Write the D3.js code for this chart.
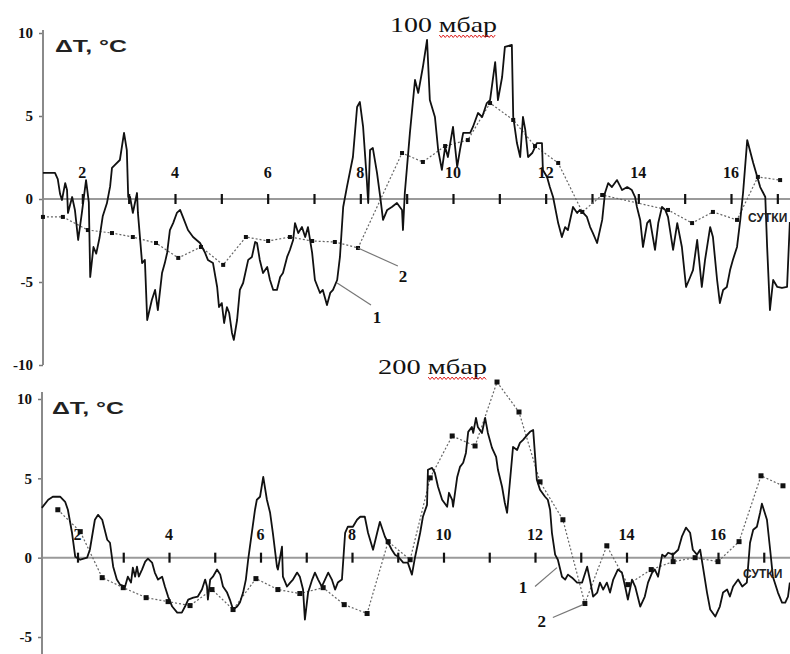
<!DOCTYPE html>
<html>
<head>
<meta charset="utf-8">
<script src="https://cdn.jsdelivr.net/npm/d3@7"></script>
<style>
	body { margin: 0; background: #fff; }
	svg { display: block; }
	.lab { font-family: "Liberation Serif", "Times New Roman", serif; font-weight: bold; font-size: 16px; fill: #111; }
	.unit { font-family: "Liberation Sans", Arial, sans-serif; font-weight: bold; font-size: 17px; fill: #222; }
	.title { font-family: "Liberation Serif", "Times New Roman", serif; font-size: 21px; fill: #111; }
	.days { font-family: "Liberation Sans", Arial, sans-serif; font-weight: bold; font-size: 12px; fill: #222; }
</style>
</head>
<body>
<svg class="chart"></svg>
<script>

// Chart size

var width = 790,
	height = 654;

var chart = d3.select(".chart")
	.attr("width", width)
	.attr("height", height);

// Axis ticks and labels (days of the period)

var dayTicks = [2, 3, 4, 5, 6, 7, 8, 9, 10, 11, 12, 13, 14, 15, 16, 17];
var dayLabels = [2, 4, 6, 8, 10, 12, 14, 16];
var yTicks100 = [10, 5, 0, -5, -10];
var yTicks200 = [10, 5, 0, -5];

// Curve 1 at 100 mbar: [day, dT]

var obs100 = [[1.15,1.57],[1.41,1.57],[1.47,1.2],[1.52,0.3],[1.56,-0.06],[1.63,0.96],[1.67,0.54],[1.69,-0.84],[1.78,0.12],[1.84,-0.66],
	[1.91,-2.47],[1.99,-0.84],[2.08,1.14],[2.14,-0.2],[2.17,-4.70],[2.24,-2.89],[2.30,-3.29],[2.37,-2.35],[2.44,-1.04],[2.53,-0.26],
	[2.60,0.76],[2.64,1.87],[2.71,2.07],[2.81,2.35],[2.90,3.98],[2.96,2.95],[2.99,0.12],[3.03,0.12],[3.09,-0.84],[3.18,0.36],
	[3.20,-0.84],[3.29,-3.86],[3.35,-3.67],[3.40,-7.29],[3.50,-6.08],[3.57,-5.48],[3.63,-6.69],[3.72,-4.46],[3.78,-3.86],[3.83,-3.25],
	[3.89,-1.87],[3.96,-1.45],[4.04,-0.84],[4.11,-0.66],[4.17,-1.08],[4.28,-1.87],[4.39,-2.29],[4.54,-2.65],[4.65,-3.25],[4.71,-3.67],
	[4.82,-3.86],[4.91,-5.30],[4.95,-6.51],[5.01,-6.27],[5.06,-7.47],[5.12,-6.51],[5.17,-6.87],[5.23,-8.07],[5.27,-8.49],[5.34,-7.29],
	[5.40,-5.48],[5.47,-5.06],[5.58,-3.67],[5.66,-3.49],[5.73,-2.59],[5.77,-2.65],[5.83,-3.67],[5.90,-4.46],[5.99,-4.10],[6.05,-4.88],
	[6.12,-5.48],[6.20,-5.48],[6.27,-4.70],[6.33,-4.46],[6.42,-3.49],[6.48,-3.07],[6.55,-2.47],[6.59,-1.45],[6.66,-2.05],[6.74,-1.69],
	[6.81,-2.29],[6.87,-1.69],[6.96,-3.25],[7.02,-4.88],[7.13,-5.66],[7.19,-5.48],[7.28,-6.39],[7.35,-5.66],[7.41,-5.48],[7.50,-4.88],
	[7.56,-3.49],[7.63,-0.48],[7.71,0.72],[7.84,2.53],[7.93,5.54],[7.99,5.84],[8.06,4.34],[8.14,1.14],[8.17,-0.24],[8.21,2.95],
	[8.27,3.07],[8.36,1.57],[8.43,0.12],[8.49,-1.26],[8.58,-0.66],[8.68,-0.48],[8.79,-0.24],[8.90,-0.66],[8.92,-1.87],[8.96,0.36],
	[9.07,3.98],[9.18,7.17],[9.25,6.39],[9.35,7.95],[9.44,9.58],[9.50,5.96],[9.61,4.94],[9.68,2.95],[9.76,1.75],[9.83,3.13],
	[9.89,2.53],[10.00,4.34],[10.09,1.93],[10.15,2.95],[10.22,3.98],[10.37,3.98],[10.43,4.34],[10.54,5.18],[10.63,4.94],[10.73,5.78],
	[10.80,5.96],[10.91,8.25],[10.97,5.96],[11.06,7.35],[11.12,9.16],[11.27,9.28],[11.30,4.94],[11.38,3.37],[11.45,2.53],[11.51,4.94],
	[11.56,4.16],[11.62,2.53],[11.71,2.77],[11.81,3.37],[11.92,3.37],[11.94,1.75],[12.03,1.33],[12.09,0.72],[12.16,0.12],[12.27,-1.45],
	[12.35,-2.29],[12.42,-1.69],[12.48,-1.87],[12.59,-0.48],[12.68,-0.84],[12.74,-0.66],[12.81,-0.84],[12.89,-1.08],[12.96,-1.69],[13.02,-2.05],
	[13.11,-2.65],[13.22,-1.26],[13.28,0.36],[13.35,0.96],[13.43,0.72],[13.54,1.14],[13.65,0.54],[13.76,0.72],[13.86,0.54],[13.93,0.12],
	[13.97,-0.48],[14.04,-1.26],[14.10,-2.89],[14.19,-1.45],[14.25,-1.26],[14.36,-3.07],[14.43,-1.45],[14.51,-0.48],[14.58,-0.66],[14.64,-1.08],
	[14.75,-3.07],[14.84,-1.45],[14.94,-2.89],[15.03,-5.30],[15.12,-4.70],[15.18,-4.28],[15.27,-2.47],[15.37,-5.30],[15.44,-3.67],[15.55,-1.69],
	[15.61,-2.29],[15.70,-4.88],[15.76,-6.27],[15.83,-5.48],[15.91,-5.30],[15.98,-4.28],[16.04,-3.67],[16.13,-2.89],[16.20,-1.26],[16.26,0.36],
	[16.35,3.55],[16.48,2.17],[16.63,0.72],[16.74,0.12],[16.78,-2.89],[16.84,-6.69],[16.91,-4.88],[17.00,-5.30],[17.10,-5.36],[17.21,-5.30],
	[17.27,-1.39]];

// Curve 2 at 100 mbar (twice a day): [day, dT]

var mean100 = [[1.15,-1.08],[1.58,-1.08],[2.12,-1.87],[2.64,-2.05],[3.09,-2.29],[3.59,-2.65],[4.07,-3.55],[4.56,-2.89],[5.04,-3.97],[5.53,-2.29],
	[6.01,-2.53],[6.48,-2.29],[6.96,-2.53],[7.45,-2.59],[7.95,-2.95],[8.90,2.77],[9.35,2.23],[9.83,3.19],[10.32,3.55],[10.80,5.78],
	[11.30,4.76],[11.77,3.19],[12.27,2.17],[12.79,-0.78],[13.22,0.24],[14.64,-0.66],[15.16,-1.45],[15.61,-0.78],[16.13,-1.26],[16.58,1.33],
	[17.06,1.14]];

// Curve 1 at 200 mbar: [day, dT]

var obs200 = [[1.22,3.14],[1.36,3.65],[1.46,3.84],[1.62,3.84],[1.73,3.52],[1.79,3.02],[1.88,1.57],[1.95,0.06],[2.06,-0.13],[2.21,0.0],
	[2.27,0.50],[2.38,2.39],[2.45,2.70],[2.54,2.39],[2.65,1.13],[2.71,0.94],[2.78,-0.57],[2.86,-1.38],[2.93,-1.70],[3.04,-1.82],
	[3.10,-1.20],[3.17,-1.57],[3.21,-0.63],[3.26,-1.20],[3.30,-0.57],[3.34,-1.20],[3.41,-0.75],[3.48,-0.25],[3.54,-0.06],[3.63,-0.31],
	[3.69,-0.94],[3.76,-1.38],[3.85,-1.20],[3.91,-1.82],[3.98,-2.45],[4.07,-3.08],[4.18,-3.46],[4.28,-3.46],[4.35,-3.08],[4.42,-2.64],
	[4.53,-2.52],[4.63,-2.45],[4.72,-2.01],[4.79,-1.38],[4.83,-1.82],[4.85,-2.64],[4.90,-1.38],[4.96,-1.20],[5.05,-0.75],[5.12,-1.07],
	[5.18,-1.82],[5.27,-2.20],[5.33,-2.64],[5.40,-3.27],[5.49,-3.08],[5.55,-2.83],[5.62,-2.20],[5.68,-1.38],[5.73,-0.13],[5.81,1.57],
	[5.88,3.02],[5.92,3.65],[5.99,3.84],[6.06,5.09],[6.14,3.65],[6.21,2.83],[6.27,1.57],[6.36,-0.57],[6.38,-0.75],[6.47,0.69],
	[6.49,-1.20],[6.58,-1.82],[6.65,-1.57],[6.71,-1.38],[6.80,-0.94],[6.86,-1.20],[6.93,-2.01],[6.97,-3.90],[7.04,-2.20],[7.13,-1.38],
	[7.19,-0.94],[7.26,-1.38],[7.34,-1.82],[7.41,-1.38],[7.48,-0.94],[7.56,-1.38],[7.63,-2.01],[7.69,-1.57],[7.78,-1.38],[7.85,1.57],
	[7.91,1.95],[8.02,1.95],[8.11,2.39],[8.18,2.58],[8.28,2.58],[8.35,1.57],[8.46,0.50],[8.55,1.57],[8.61,2.26],[8.72,1.32],
	[8.79,0.94],[8.87,0.50],[8.94,0.19],[9.01,0.06],[9.12,-0.31],[9.22,-0.31],[9.31,-1.07],[9.38,0.06],[9.49,1.57],[9.55,2.58],
	[9.64,3.33],[9.66,5.54],[9.75,5.66],[9.81,5.35],[9.88,4.47],[9.97,3.65],[10.08,3.21],[10.12,4.09],[10.19,3.65],[10.21,3.21],
	[10.30,5.09],[10.36,5.72],[10.43,5.98],[10.49,6.60],[10.54,7.93],[10.62,8.24],[10.65,7.86],[10.71,8.81],[10.75,8.24],[10.84,7.86],
	[10.91,8.81],[10.97,7.86],[11.06,6.92],[11.15,6.35],[11.19,5.54],[11.28,4.47],[11.34,3.46],[11.39,2.83],[11.45,4.72],[11.52,6.98],
	[11.61,6.79],[11.67,7.23],[11.74,7.42],[11.83,7.74],[11.89,7.93],[11.96,8.05],[12.04,4.91],[12.11,4.28],[12.22,3.84],[12.28,3.65],
	[12.33,3.02],[12.37,1.57],[12.44,0.19],[12.50,-0.13],[12.59,-1.20],[12.66,-1.38],[12.72,-1.07],[12.81,-1.26],[12.92,-1.57],[13.03,-1.57],
	[13.14,-0.57],[13.20,-1.38],[13.27,-2.45],[13.36,-2.20],[13.42,-1.57],[13.49,-2.01],[13.57,-1.57],[13.64,-2.20],[13.71,-1.38],[13.81,-0.75],
	[13.90,-0.94],[13.97,-1.82],[14.03,-2.64],[14.12,-1.38],[14.19,-1.82],[14.30,-3.08],[14.40,-2.45],[14.47,-1.57],[14.56,-0.94],[14.62,-0.75],
	[14.69,-1.20],[14.78,0.19],[14.84,0.06],[14.91,0.31],[15.02,0.19],[15.13,0.50],[15.21,1.32],[15.30,1.89],[15.39,1.57],[15.45,0.50],
	[15.54,0.19],[15.61,0.50],[15.67,-0.57],[15.76,-2.20],[15.83,-3.27],[15.94,-3.71],[16.04,-3.08],[16.11,-2.20],[16.20,-2.01],[16.26,-2.45],
	[16.33,-1.82],[16.44,-1.38],[16.53,-1.82],[16.63,-1.57],[16.70,0.94],[16.77,1.76],[16.85,1.95],[16.92,2.83],[16.96,3.40],[17.07,2.39],
	[17.14,0.50],[17.20,-1.20],[17.31,-2.20],[17.40,-2.83],[17.47,-2.83],[17.53,-2.45],[17.57,-1.57]];

// Curve 2 at 200 mbar (twice a day): [day, dT]

var mean200 = [[1.57,3.02],[2.06,1.64],[2.54,-1.26],[3.00,-1.89],[3.50,-2.52],[3.98,-2.77],[4.46,-3.02],[4.94,-2.01],[5.40,-3.27],[5.90,-1.32],
	[6.38,-2.01],[6.86,-2.26],[7.37,-1.89],[7.83,-2.96],[8.33,-3.52],[8.79,1.01],[9.27,-0.13],[9.71,5.03],[10.19,7.67],[10.69,7.04],
	[11.17,11.07],[11.65,9.18],[12.11,4.78],[12.61,2.39],[13.09,-2.89],[13.57,0.75],[14.03,-1.70],[14.54,-0.75],[15.02,-0.25],[15.50,0.0],
	[16.00,-0.25],[16.46,1.01],[16.94,5.16],[17.42,4.53]];

// Panel settings: where each panel sits on the page

var panels = [
{
	"title": "100 мбар",
	"obs": obs100,
	"mean": mean100,
	"yTicks": yTicks100,
	"x": d3.scaleLinear().domain([4, 16]).range([175, 731]),
	"y": d3.scaleLinear().domain([-10, 10]).range([365, 33]),
	"left": 43,
	"yTop": 30,
	"yBottom": 365,
	"marker": 4,
	"titleX": 390, "titleY": 32, "titleW": 107,
	"unitX": 55, "unitY": 52,
	"labelDy": -21,
	"daysX": 748, "daysY": 222,
	"notes": [
		{"text": "1", "from": [7.50, -5.06], "to": [8.23, -6.39], "at": [8.36, -7.47]},
		{"text": "2", "from": [7.95, -2.95], "to": [8.81, -4.04], "at": [8.92, -5.00]}
	]
}, {
	"title": "200 мбар",
	"obs": obs200,
	"mean": mean200,
	"yTicks": yTicks200,
	"x": d3.scaleLinear().domain([4, 16]).range([169, 718]),
	"y": d3.scaleLinear().domain([-5, 10]).range([637, 399]),
	"left": 42,
	"yTop": 392,
	"yBottom": 654,
	"marker": 5,
	"titleX": 378, "titleY": 374, "titleW": 109,
	"unitX": 52, "unitY": 414,
	"labelDy": -18,
	"daysX": 743, "daysY": 578,
	"notes": [
		{"text": "1", "from": [12.48, -0.63], "to": [12.00, -1.82], "at": [11.74, -2.20]},
		{"text": "2", "from": [13.05, -2.96], "to": [12.39, -3.77], "at": [12.15, -4.40]}
	]
}];

panels.forEach(function(p) { drawPanel(p); });

function drawPanel(p) {

// Draw one panel: axes, both curves, labels

	var g = chart.append("g");
	var zero = p.y(0);

	// Horizontal zero line across the panel

	g.append("line")
		.attr("x1", p.left)
		.attr("x2", width)
		.attr("y1", zero)
		.attr("y2", zero)
		.style("stroke", "#9a9a9a")
		.style("stroke-width", 2);

	// Vertical axis with ticks

	var yAxis = d3.axisLeft(p.y)
		.tickValues(p.yTicks)
		.tickSize(4)
		.tickPadding(6)
		.tickFormat(function(d) { return String(d); });

	var ya = g.append("g")
		.attr("transform", "translate(" + p.left + ",0)")
		.call(yAxis)
		.attr("font-family", null)
		.attr("font-size", null);
	ya.select(".domain").remove();
	ya.selectAll("line").style("stroke", "#777").style("stroke-width", 1.5);
	ya.selectAll("text").attr("class", "lab").style("font-size", "15px");

	g.append("line")
		.attr("x1", p.left)
		.attr("x2", p.left)
		.attr("y1", p.yTop)
		.attr("y2", p.yBottom)
		.style("stroke", "#8a8a8a")
		.style("stroke-width", 2);

	// Day ticks on the zero line

	var xAxis = d3.axisBottom(p.x)
		.tickValues(dayTicks)
		.tickSize(10)
		.tickFormat("");

	var xa = g.append("g")
		.attr("transform", "translate(0," + (zero - 5) + ")")
		.call(xAxis);
	xa.select(".domain").remove();
	xa.selectAll("line").style("stroke", "#111").style("stroke-width", 2.2);

	g.selectAll(".daylab")
		.data(dayLabels)
	.enter().append("text")
		.attr("class", "lab")
		.attr("x", function(d) { return p.x(d); })
		.attr("y", zero + p.labelDy)
		.style("text-anchor", "middle")
		.text(function(d) { return d; });

	// Curve 2: dotted line with square markers

	var line = d3.line()
		.x(function(d) { return p.x(d[0]); })
		.y(function(d) { return p.y(d[1]); });

	g.append("path")
		.datum(p.mean)
		.attr("d", line)
		.style("fill", "none")
		.style("stroke", "#666")
		.style("stroke-width", 1.2)
		.style("stroke-dasharray", "2,2");

	g.selectAll(".mark")
		.data(p.mean)
	.enter().append("rect")
		.attr("x", function(d) { return p.x(d[0]) - p.marker / 2; })
		.attr("y", function(d) { return p.y(d[1]) - p.marker / 2; })
		.attr("width", p.marker)
		.attr("height", p.marker)
		.style("fill", "#111");

	// Curve 1: solid line

	g.append("path")
		.datum(p.obs)
		.attr("d", line)
		.style("fill", "none")
		.style("stroke", "#111")
		.style("stroke-width", 1.8)
		.style("stroke-linejoin", "round");

	// Curve numbers with leader lines

	p.notes.forEach(function(n) {
		g.append("line")
			.attr("x1", p.x(n.from[0]))
			.attr("y1", p.y(n.from[1]))
			.attr("x2", p.x(n.to[0]))
			.attr("y2", p.y(n.to[1]))
			.style("stroke", "#777")
			.style("stroke-width", 1.2);
		g.append("text")
			.attr("class", "lab")
			.attr("x", p.x(n.at[0]))
			.attr("y", p.y(n.at[1]))
			.style("text-anchor", "middle")
			.style("font-size", "17px")
			.text(n.text);
	});

	// Texts: unit, level title, "сутки"

	g.append("text")
		.attr("class", "unit")
		.attr("x", p.unitX)
		.attr("y", p.unitY)
		.attr("textLength", 72)
		.attr("lengthAdjust", "spacingAndGlyphs")
		.text("ΔT, °C");

	g.append("text")
		.attr("class", "title")
		.attr("x", p.titleX)
		.attr("y", p.titleY)
		.attr("textLength", p.titleW)
		.attr("lengthAdjust", "spacingAndGlyphs")
		.text(p.title);

	// Red spell-check squiggle under the word "мбар"

	var x0 = p.titleX + p.titleW * 0.46,
		x1 = p.titleX + p.titleW,
		pts = [];
	for (var xx = x0, k = 0; xx <= x1; xx += 2, k++) {
		pts.push([xx, p.titleY + (k % 2 == 0 ? 3 : 5.5)]);
	}
	g.append("path")
		.attr("d", d3.line()(pts))
		.style("fill", "none")
		.style("stroke", "#e02020")
		.style("stroke-width", 1);

	g.append("text")
		.attr("class", "days")
		.attr("x", p.daysX)
		.attr("y", p.daysY)
		.text("СУТКИ");
}

</script>
</body>
</html>
